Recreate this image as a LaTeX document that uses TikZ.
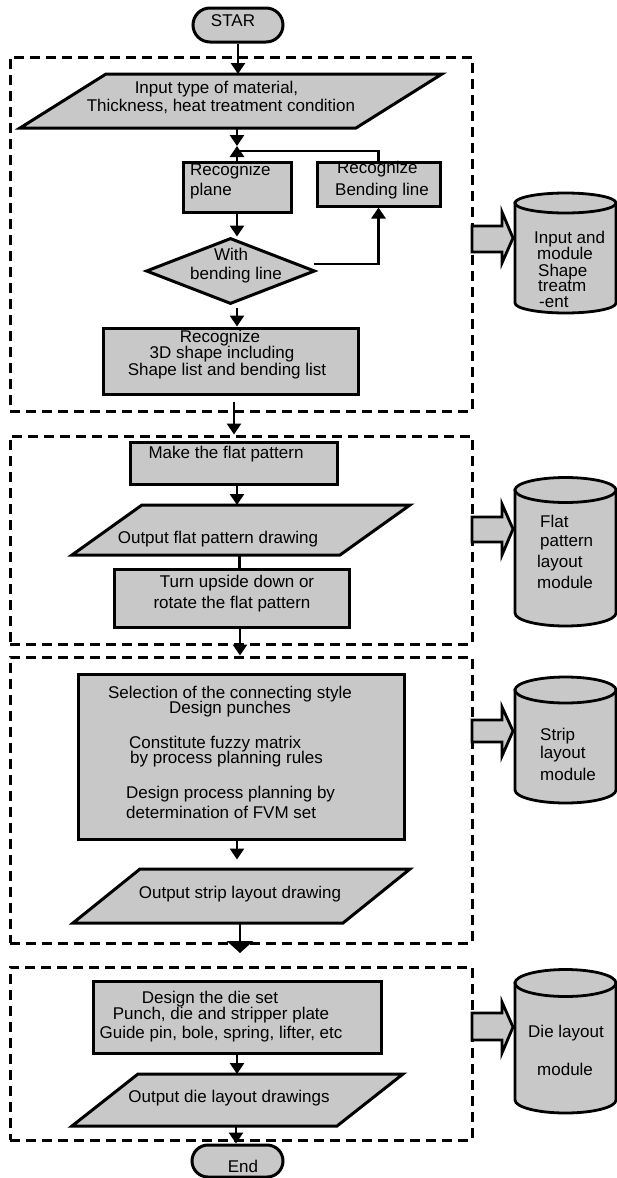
\documentclass[tikz,border=0pt]{standalone}
\usepackage{fontspec}
\setmainfont{Liberation Sans}
\usetikzlibrary{shapes.geometric,arrows.meta}
\definecolor{fillg}{RGB}{200,200,200}
\begin{document}
\begin{tikzpicture}[x={(1pt,0)},y={(0,-1pt)},
  box/.style={draw,line width=3pt,fill=fillg,inner sep=0},
  ghost/.style={inner sep=0,outer sep=0},
  dbox/.style={draw,line width=3pt,dash pattern=on 10pt off 6pt,inner sep=0},
  t/.style={inner sep=0,anchor=base,font=\fontsize{17}{18}\selectfont},
  tl/.style={t,anchor=base west},
  arr/.style={line width=2.8pt,-{Triangle[width=14pt,length=11pt]}},
  bigarr/.style={line width=2.8pt,-{Triangle[width=26pt,length=12pt]}},
  ln/.style={line width=2.8pt},
  para/.style={draw,line width=3pt,fill=fillg,line join=miter},
  cyl/.style={draw,line width=2.8pt,fill=fillg},
  barrow/.style={draw,line width=2.8pt,fill=fillg,line join=miter}]
\useasboundingbox (0,0) rectangle (617,1178);
\coordinate (cx) at (237,0);

% dashed module frames
\node[dbox,minimum width=462pt,minimum height=354pt] (m1) at (241,234) {};
\node[dbox,minimum width=462pt,minimum height=208pt] (m2) at (241,540) {};
\node[dbox,minimum width=462pt,minimum height=286pt] (m3) at (241,800) {};
\node[dbox,minimum width=462pt,minimum height=173pt] (m4) at (241,1053.5) {};

% start
\node[box,rounded corners=17pt,minimum width=90pt,minimum height=34pt] (star) at (238,25) {};
\node[t] (startxt) at (233,26) {STAR};

% input parallelogram
\node[ghost,minimum width=422pt,minimum height=54pt] (p1) at (231,101) {};
\filldraw[para] ([xshift=86pt]p1.north west) -- (p1.north east) -- ([xshift=-86pt]p1.south east) -- (p1.south west) -- cycle;
\node[t] (p1a) at (216.5,93) {Input type of material,};
\node[t] (p1b) at (221,111) {Thickness, heat treatment condition};

\coordinate (j) at (237,146);
\coordinate (j2) at (237,151);

% recognize plane / bending line
\node[box,minimum width=108pt,minimum height=50pt] (rp) at (237,187) {};
\node[tl] (rpa) at (190,175) {Recognize};
\node[tl] (rpb) at (190,195) {plane};
\node[box,minimum width=123pt,minimum height=44pt] (rbl) at (378.5,184) {};
\node[tl] (rbla) at (337,173) {Recognize};
\node[tl] (rblb) at (335,195) {Bending line};

% decision
\node[draw,line width=3pt,fill=fillg,shape=diamond,inner sep=0,minimum width=169pt,minimum height=66pt] (dia) at (230.5,271) {};
\node[t] (diaa) at (231,260) {With};
\node[t] (diab) at (236,279) {bending line};

% 3D shape box
\node[box,minimum width=255pt,minimum height=66pt] (b3d) at (230.5,361) {};
\node[t] (b3da) at (220,342) {Recognize};
\node[t] (b3db) at (222,358) {3D shape including};
\node[t] (b3dc) at (227,375) {Shape list and bending list};

% module 2
\node[box,minimum width=207pt,minimum height=42pt] (mfp) at (233.5,463) {};
\node[t] (mfpt) at (226,458) {Make the flat pattern};
\node[ghost,minimum width=338pt,minimum height=50pt] (p2) at (241,530) {};
\filldraw[para] ([xshift=70pt]p2.north west) -- (p2.north east) -- ([xshift=-70pt]p2.south east) -- (p2.south west) -- cycle;
\node[t] (p2t) at (218,543) {Output flat pattern drawing};
\node[box,minimum width=235pt,minimum height=58pt] (turn) at (231.5,598) {};
\node[t] (turna) at (237,587) {Turn upside down or};
\node[t] (turnb) at (232,608) {rotate the flat pattern};

% module 3
\node[box,minimum width=326pt,minimum height=165pt] (big) at (241,756.5) {};
\node[t] (biga) at (230,698) {Selection of the connecting style};
\node[t] (bigb) at (230,713) {Design punches};
\node[tl] (bigc) at (129,748) {Constitute fuzzy matrix};
\node[tl] (bigd) at (130,763) {by process planning rules};
\node[tl] (bige) at (126,798) {Design process planning by};
\node[tl] (bigf) at (126,818) {determination of FVM set};
\node[ghost,minimum width=337pt,minimum height=54pt] (p3) at (241.5,896) {};
\filldraw[para] ([xshift=67pt]p3.north west) -- (p3.north east) -- ([xshift=-67pt]p3.south east) -- (p3.south west) -- cycle;
\node[t] (p3t) at (240,898) {Output strip layout drawing};

% module 4
\node[box,minimum width=288pt,minimum height=72pt] (die) at (237,1017) {};
\node[t] (diea) at (210,1003) {Design the die set};
\node[t] (dieb) at (221,1019) {Punch, die and stripper plate};
\node[t] (diec) at (221,1038) {Guide pin, bole, spring, lifter, etc};
\node[ghost,minimum width=331pt,minimum height=52pt] (p4) at (237.5,1100) {};
\filldraw[para] ([xshift=66pt]p4.north west) -- (p4.north east) -- ([xshift=-66pt]p4.south east) -- (p4.south west) -- cycle;
\node[t] (p4t) at (229,1102) {Output die layout drawings};

% end
\node[box,rounded corners=16pt,minimum width=91pt,minimum height=32pt] (end) at (237.5,1161) {};
\node[t] (endt) at (243,1172) {End};

% connectors
\draw[arr] (star.south) -- (star.south |- p1.north);
\draw[arr] (cx |- p1.south) -- (j);
\draw[arr] (rp.north) -- (j);
\draw[ln] (j2) -| (rbl.north);
\draw[arr] (rp.south) -- (rp.south |- dia.north);
\draw[arr] ([xshift=-3pt,yshift=7pt]dia.east) -| (rbl.south);
\draw[arr] ([xshift=6.5pt,yshift=-2pt]dia.south) -- ([xshift=6.5pt]dia.south |- b3d.north);
\draw[arr] ([xshift=3.5pt,yshift=-6pt]b3d.south) -- ([xshift=3.5pt]b3d.south |- m2.north);
\draw[arr] ([xshift=3.5pt]mfp.south) -- ([xshift=3.5pt]mfp.south |- p2.north);
\draw[ln] ([xshift=-1.5pt]p2.south) -- ([xshift=-1.5pt]p2.south |- turn.north);
\draw[arr] ([xshift=8.5pt]turn.south) -- ([xshift=8.5pt]turn.south |- m3.north);
\draw[arr] ([xshift=-4pt]big.south) -- ++(0,19);
\draw[bigarr] ([xshift=-1.5pt]p3.south) -- ++(0,30);
\draw[arr] (die.south) -- (die.south |- p4.north);
\draw[arr] ([xshift=-1.5pt]p4.south) -- ([xshift=-1.5pt]p4.south |- end.north);

% block arrows
\filldraw[barrow] (472,226) -- (502,226) -- (502,212) -- (513,238) -- (502,263) -- (502,252) -- (472,252) -- cycle;
\filldraw[barrow] (472,517) -- (502,517) -- (502,504) -- (513,529) -- (502,555) -- (502,542) -- (472,542) -- cycle;
\filldraw[barrow] (472,720) -- (502,720) -- (502,707) -- (513,731) -- (502,756) -- (502,742) -- (472,742) -- cycle;
\filldraw[barrow] (472,1013) -- (502,1013) -- (502,1002) -- (513,1027) -- (502,1053) -- (502,1040) -- (472,1040) -- cycle;

% cylinders
\filldraw[cyl] (515,203) -- (515,303) arc[start angle=180,end angle=0,x radius=50.5,y radius=10] -- (616,203) -- cycle;
\filldraw[cyl] (565.5,203) ellipse [x radius=50.5,y radius=10];
\filldraw[cyl] (515,490) -- (515,613) arc[start angle=180,end angle=0,x radius=50.5,y radius=13] -- (616,490) -- cycle;
\filldraw[cyl] (565.5,490) ellipse [x radius=50.5,y radius=12.5];
\filldraw[cyl] (515,690) -- (515,790) arc[start angle=180,end angle=0,x radius=50.5,y radius=13] -- (616,690) -- cycle;
\filldraw[cyl] (565.5,690) ellipse [x radius=50.5,y radius=13];
\filldraw[cyl] (515,983) -- (515,1100) arc[start angle=180,end angle=0,x radius=50.5,y radius=13] -- (616,983) -- cycle;
\filldraw[cyl] (565.5,983) ellipse [x radius=50.5,y radius=13.5];

\node[tl] (c1a) at (534,243) {Input and};
\node[tl] (c1b) at (537,259) {module};
\node[tl] (c1c) at (538,276) {Shape};
\node[tl] (c1d) at (538,291) {treatm};
\node[tl] (c1e) at (539,307) {-ent};
\node[tl] (c2a) at (540,527) {Flat};
\node[tl] (c2b) at (540,546) {pattern};
\node[tl] (c2c) at (537,567) {layout};
\node[tl] (c2d) at (537,588) {module};
\node[tl] (c3a) at (540,740) {Strip};
\node[tl] (c3b) at (540,758) {layout};
\node[tl] (c3c) at (540,780) {module};
\node[tl] (c4a) at (528,1037) {Die layout};
\node[tl] (c4b) at (537,1075) {module};
\end{tikzpicture}
\end{document}
